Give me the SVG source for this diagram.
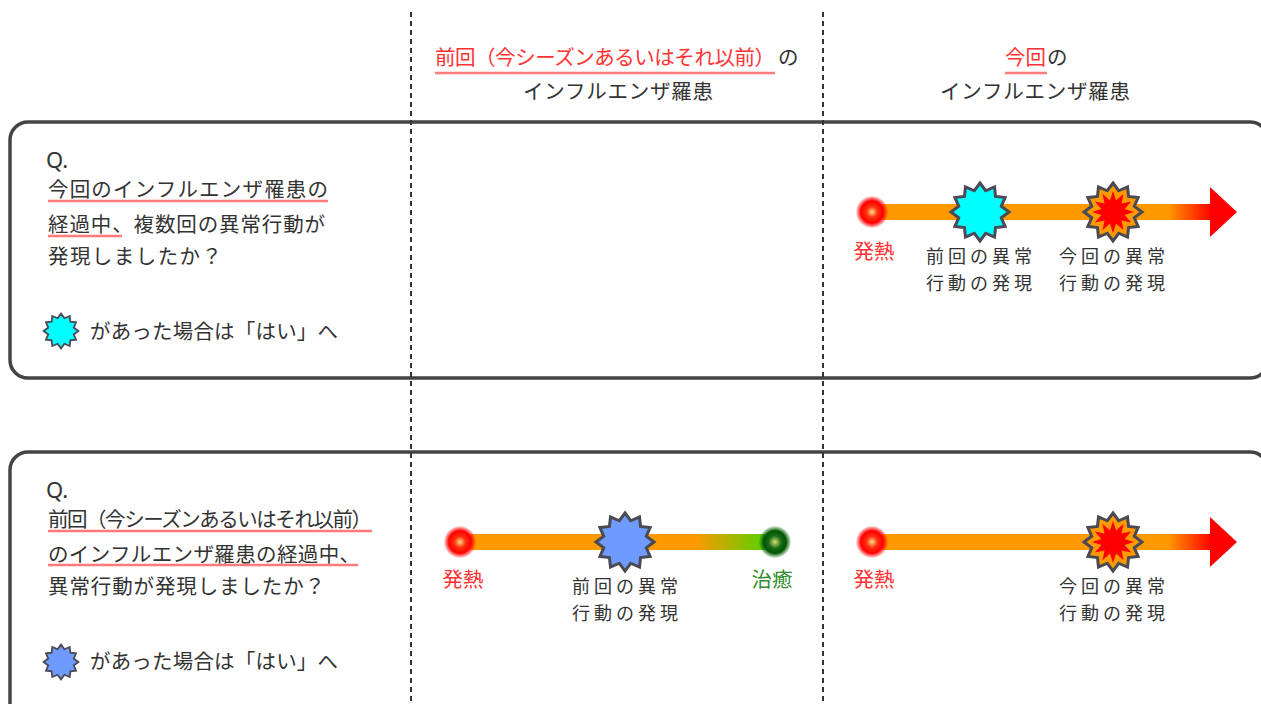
<svg xmlns="http://www.w3.org/2000/svg" width="1261" height="704" viewBox="0 0 1261 704">
<style>
.t{font-family:"Noto Sans CJK JP","Noto Sans",sans-serif;font-size:20.5px;fill:#333}
.s{font-size:18px}
.r{fill:#ff3333}
.g{fill:#2e8b2e}
.q{font-family:"Noto Sans","DejaVu Sans",sans-serif;font-size:22px;fill:#333}
.ul{stroke:#ff7a7a;stroke-width:2.5;fill:none}
.box{fill:none;stroke:#444;stroke-width:3.5}
.dash{stroke:#333;stroke-width:2;stroke-dasharray:5 4}
.star{stroke:#4a4a55;stroke-width:3;stroke-linejoin:miter}
</style>
<defs>
<polygon id="star" points="0,-29 5.69,-21.25 14.5,-25.1 15.56,-15.56 25.1,-14.5 21.25,-5.69 29,0 21.25,5.69 25.1,14.5 15.56,15.56 14.5,25.1 5.69,21.25 0,29 -5.69,21.25 -14.5,25.1 -15.56,15.56 -25.1,14.5 -21.25,5.69 -29,0 -21.25,-5.69 -25.1,-14.5 -15.56,-15.56 -14.5,-25.1 -5.69,-21.25"/>
<polygon id="inner" points="0,-21 3.11,-11.59 10.5,-18.19 8.49,-8.49 18.19,-10.5 11.59,-3.11 21,0 11.59,3.11 18.19,10.5 8.49,8.49 10.5,18.19 3.11,11.59 0,21 -3.11,11.59 -10.5,18.19 -8.49,8.49 -18.19,10.5 -11.59,3.11 -21,0 -11.59,-3.11 -18.19,-10.5 -8.49,-8.49 -10.5,-18.19 -3.11,-11.59"/>
<radialGradient id="redDot">
<stop offset="0" stop-color="#ffe080"/>
<stop offset="0.35" stop-color="#ff3010"/>
<stop offset="0.7" stop-color="#ff0000"/>
<stop offset="1" stop-color="#ff0000" stop-opacity="0.1"/>
</radialGradient>
<radialGradient id="greenDot">
<stop offset="0" stop-color="#d8e070"/>
<stop offset="0.4" stop-color="#1a6a1a"/>
<stop offset="0.7" stop-color="#005500"/>
<stop offset="1" stop-color="#006600" stop-opacity="0.1"/>
</radialGradient>
<linearGradient id="toRed1" gradientUnits="userSpaceOnUse" x1="1168" y1="0" x2="1212" y2="0">
<stop offset="0" stop-color="#ff9900"/>
<stop offset="1" stop-color="#ff0000"/>
</linearGradient>
<linearGradient id="toGreen" gradientUnits="userSpaceOnUse" x1="695" y1="0" x2="760" y2="0">
<stop offset="0" stop-color="#ff9900"/>
<stop offset="1" stop-color="#66cc00"/>
</linearGradient>
</defs>
<rect width="1261" height="704" fill="#fff"/>

<g id="question-box-1">
<rect class="box" x="10" y="122" width="1258" height="256" rx="18"/>
<text class="q" x="46" y="168">Q.</text>
<text class="t" x="48" y="197" textLength="280" lengthAdjust="spacing">今回のインフルエンザ罹患の</text>
<line class="ul" x1="48" y1="201" x2="328" y2="201"/>
<text class="t" x="48" y="232" textLength="277" lengthAdjust="spacing">経過中、複数回の異常行動が</text>
<line class="ul" x1="48" y1="236" x2="122" y2="236"/>
<text class="t" x="48" y="264" textLength="174" lengthAdjust="spacing">発現しましたか？</text>
<use href="#star" class="star" fill="#00ffff" transform="translate(61,331) scale(0.6)"/>
<text class="t" x="90" y="339" textLength="248" lengthAdjust="spacing">があった場合は「はい」へ</text>
</g>

<g id="question-box-2">
<rect class="box" x="10" y="452" width="1258" height="290" rx="18"/>
<text class="q" x="46" y="498">Q.</text>
<text class="t" x="48" y="527" textLength="324" lengthAdjust="spacing">前回（今シーズンあるいはそれ以前）</text>
<line class="ul" x1="48" y1="531" x2="372" y2="531"/>
<text class="t" x="48" y="562" textLength="312" lengthAdjust="spacing">のインフルエンザ羅患の経過中、</text>
<line class="ul" x1="48" y1="565" x2="358" y2="565"/>
<text class="t" x="48" y="594" textLength="277" lengthAdjust="spacing">異常行動が発現しましたか？</text>
<use href="#star" class="star" fill="#6f9bff" transform="translate(61,662) scale(0.6)"/>
<text class="t" x="90" y="669" textLength="248" lengthAdjust="spacing">があった場合は「はい」へ</text>
</g>

<g id="dividers">
<line class="dash" x1="411" y1="12" x2="411" y2="704"/>
<line class="dash" x1="823" y1="12" x2="823" y2="704"/>
</g>

<g id="header-previous">
<text class="t r" x="435" y="65" textLength="340" lengthAdjust="spacing">前回（今シーズンあるいはそれ以前）</text>
<text class="t" x="778" y="65">の</text>
<line class="ul" x1="435" y1="73" x2="775" y2="73"/>
<text class="t" x="523" y="99" textLength="190" lengthAdjust="spacing">インフルエンザ羅患</text>
</g>

<g id="header-current">
<text class="t r" x="1005" y="65" textLength="41" lengthAdjust="spacing">今回</text>
<text class="t" x="1047" y="65">の</text>
<line class="ul" x1="1005" y1="73" x2="1047" y2="73"/>
<text class="t" x="940" y="99" textLength="190" lengthAdjust="spacing">インフルエンザ羅患</text>
</g>

<g id="connectors">
<rect x="880" y="204" width="290" height="16" fill="#ff9900"/>
<rect x="1168" y="204" width="44" height="16" fill="url(#toRed1)"/>
<polygon points="1210,187 1237,212 1210,237" fill="#ff0000"/>
<rect x="470" y="534" width="227" height="16" fill="#ff9900"/>
<rect x="695" y="534" width="70" height="16" fill="url(#toGreen)"/>
<rect x="880" y="534" width="290" height="16" fill="#ff9900"/>
<rect x="1168" y="534" width="44" height="16" fill="url(#toRed1)"/>
<polygon points="1210,517 1237,542 1210,567" fill="#ff0000"/>
</g>

<g id="fever-1">
<circle cx="872" cy="212" r="16" fill="url(#redDot)"/>
<text class="t r" x="874" y="259" text-anchor="middle">発熱</text>
</g>
<g id="prev-abnormal-1">
<use href="#star" class="star" fill="#00ffff" transform="translate(980,212)"/>
<text class="t s" x="979" y="263" text-anchor="middle" textLength="106" lengthAdjust="spacing">前回の異常</text>
<text class="t s" x="979" y="290" text-anchor="middle" textLength="106" lengthAdjust="spacing">行動の発現</text>
</g>
<g id="curr-abnormal-1">
<use href="#star" class="star" fill="#ff9900" transform="translate(1113,212)"/>
<use href="#inner" fill="#ff0000" transform="translate(1113,212)"/>
<text class="t s" x="1112" y="263" text-anchor="middle" textLength="106" lengthAdjust="spacing">今回の異常</text>
<text class="t s" x="1112" y="290" text-anchor="middle" textLength="106" lengthAdjust="spacing">行動の発現</text>
</g>

<g id="fever-2">
<circle cx="460" cy="542" r="16" fill="url(#redDot)"/>
<text class="t r" x="463" y="587" text-anchor="middle">発熱</text>
</g>
<g id="prev-abnormal-2">
<use href="#star" class="star" fill="#6f9bff" transform="translate(625,542)"/>
<text class="t s" x="625" y="593" text-anchor="middle" textLength="106" lengthAdjust="spacing">前回の異常</text>
<text class="t s" x="625" y="620" text-anchor="middle" textLength="106" lengthAdjust="spacing">行動の発現</text>
</g>
<g id="recovery-2">
<circle cx="775" cy="542" r="16" fill="url(#greenDot)"/>
<text class="t g" x="772" y="587" text-anchor="middle">治癒</text>
</g>

<g id="fever-3">
<circle cx="872" cy="542" r="16" fill="url(#redDot)"/>
<text class="t r" x="874" y="587" text-anchor="middle">発熱</text>
</g>
<g id="curr-abnormal-3">
<use href="#star" class="star" fill="#ff9900" transform="translate(1113,542)"/>
<use href="#inner" fill="#ff0000" transform="translate(1113,542)"/>
<text class="t s" x="1112" y="593" text-anchor="middle" textLength="106" lengthAdjust="spacing">今回の異常</text>
<text class="t s" x="1112" y="620" text-anchor="middle" textLength="106" lengthAdjust="spacing">行動の発現</text>
</g>
</svg>
